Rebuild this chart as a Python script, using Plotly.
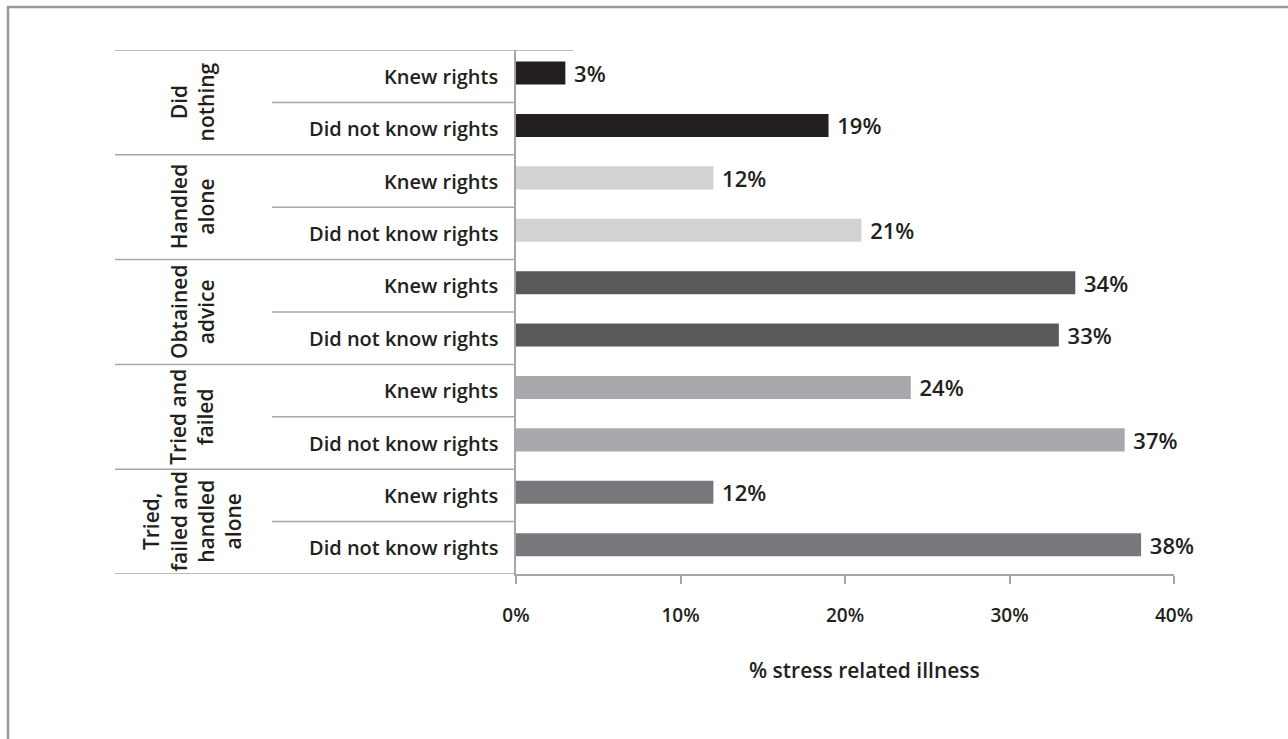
import plotly.graph_objects as go

# Groups of action taken, each split by whether the person knew their rights
groups = ["Did nothing", "Handled alone", "Obtained advice",
          "Tried and failed", "Tried, failed and handled alone"]
group_lines = ["Did<br>nothing", "Handled<br>alone", "Obtained<br>advice",
               "Tried and<br>failed", "Tried,<br>failed and<br>handled<br>alone"]
subgroups = ["Knew rights", "Did not know rights"]

knew_rights = [3, 12, 34, 24, 12]
did_not_know = [19, 21, 33, 37, 38]

group_colors = ["#231f20", "#d1d2d4", "#58595b", "#a7a9ac", "#77787b"]

x_ticks = [0, 10, 20, 30, 40]
x_title = "% stress related illness"

# Page geometry (pixels)
W, H = 1288, 739
L, R, T, B = 516, 114, 50, 165
PW, PH = W - L - R, H - T - B


def px_x(p):
    return (p - L) / PW


def px_y(p):
    return (H - B - p) / PH


TEXT = "#231f20"
LINE = "#a6a6a6"
FONT = "Open Sans"

# Flatten into one row per bar, top to bottom
rows, values, colors, labels = [], [], [], []
for g, (k, n) in enumerate(zip(knew_rights, did_not_know)):
    for s, v in zip(subgroups, (k, n)):
        rows.append(len(rows))
        values.append(v)
        colors.append(group_colors[g])
        labels.append(s)

fig = go.Figure(go.Bar(
    x=values, y=rows, orientation="h",
    marker=dict(color=colors, line=dict(width=0)),
    width=0.44, offset=-0.28,
    text=[f"\u00a0{v}%" for v in values], textposition="outside",
    textfont=dict(family=FONT, size=22, color=TEXT, weight=600),
    constraintext="none", cliponaxis=False,
    hoverinfo="skip",
))

shapes = []
annotations = []

# Sub-row labels
for r, lab in zip(rows, labels):
    annotations.append(dict(
        x=px_x(500), xref="paper", y=r, yref="y", text=lab,
        xanchor="right", yanchor="middle", showarrow=False,
        font=dict(family=FONT, size=20, color=TEXT, weight=600)))

n_rows = len(rows)
per_group = len(subgroups)
for g in range(len(groups)):
    top = g * per_group - 0.5
    # full-width line at each group boundary
    shapes.append(dict(type="line", xref="paper", yref="y",
                       x0=px_x(115), x1=px_x(573) if g == 0 else 0,
                       y0=top, y1=top, line=dict(color=LINE, width=1.5)))
    # inner line between the two sub-rows
    mid = top + 1
    shapes.append(dict(type="line", xref="paper", yref="y",
                       x0=px_x(272), x1=0, y0=mid, y1=mid,
                       line=dict(color=LINE, width=1.5)))
    annotations.append(dict(
        x=px_x(192), xref="paper", y=top + per_group / 2, yref="y",
        text=group_lines[g], textangle=-90, align="center",
        xanchor="center", yanchor="middle", showarrow=False,
        font=dict(family=FONT, size=21, color=TEXT, weight=600)))

bottom = n_rows - 0.5
shapes.append(dict(type="line", xref="paper", yref="y",
                   x0=px_x(115), x1=0, y0=bottom, y1=bottom,
                   line=dict(color=LINE, width=1.5)))

# Outer frame (top and left edges)
shapes.append(dict(type="line", xref="paper", yref="paper",
                   x0=px_x(7), x1=px_x(W + 5), y0=px_y(7), y1=px_y(7),
                   line=dict(color="#999999", width=2.5)))
shapes.append(dict(type="line", xref="paper", yref="paper",
                   x0=px_x(8), x1=px_x(8), y0=px_y(6), y1=px_y(H + 5),
                   line=dict(color="#999999", width=2.5)))

annotations.append(dict(
    x=px_x(864), xref="paper", y=px_y(670), yref="paper", text=x_title,
    xanchor="center", yanchor="middle", showarrow=False,
    font=dict(family=FONT, size=21, color=TEXT, weight=600)))

fig.update_layout(
    width=W, height=H,
    margin=dict(l=L, r=R, t=T, b=B, pad=0),
    plot_bgcolor="white", paper_bgcolor="white",
    showlegend=False,
    shapes=shapes, annotations=annotations,
    xaxis=dict(range=[0, 40], tickvals=x_ticks,
               ticktext=[f"{t}%" for t in x_ticks],
               showgrid=False, zeroline=False,
               showline=True, linecolor=LINE, linewidth=1.5,
               ticks="outside", ticklen=8, tickcolor=LINE, tickwidth=1.5,
               ticklabelstandoff=15,
               tickfont=dict(family=FONT, size=19, color=TEXT, weight=600)),
    yaxis=dict(range=[n_rows - 0.5, -0.5], showticklabels=False,
               showgrid=False, zeroline=False,
               showline=True, linecolor=LINE, linewidth=1.5, ticks=""),
)

fig.write_html("out.html")
